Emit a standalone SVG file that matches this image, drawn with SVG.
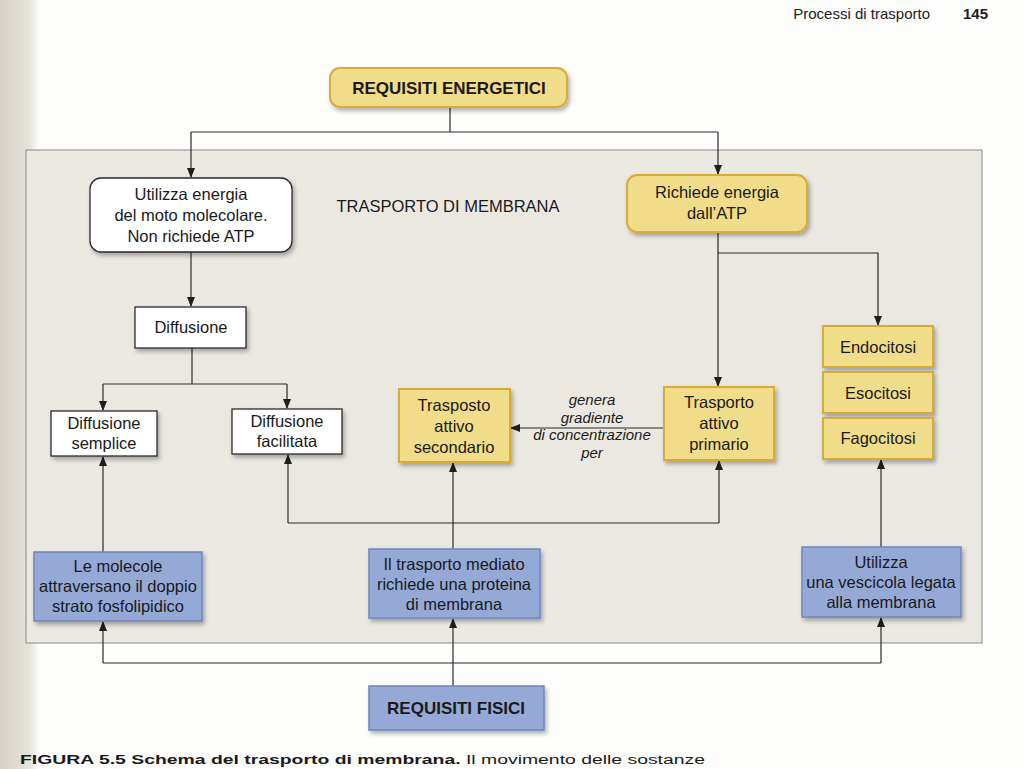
<svg xmlns="http://www.w3.org/2000/svg" width="1024" height="769" viewBox="0 0 1024 769">
<defs>
<style>
.t{font-family:"Liberation Sans",Arial,sans-serif;font-size:16.5px;fill:#1a1a1a;text-anchor:middle}
.b{font-weight:bold;font-size:17px}
.i{font-style:italic;font-size:15px}
.w{fill:#ffffff;stroke:#2a2a2a;stroke-width:1.3}
.y{fill:#f1dc89;stroke:#d6ad35;stroke-width:2}
.bl{fill:#95a9d7;stroke:#6f87bf;stroke-width:1.5}
.c{fill:none;stroke:#2b2b2b;stroke-width:1.2}
</style>
<marker id="ah" markerWidth="10" markerHeight="8" refX="9" refY="4" orient="auto" markerUnits="userSpaceOnUse">
<path d="M0,0 L10,4 L0,8 Z" fill="#1e1e1e"/>
</marker>
<filter id="sh" x="-10%" y="-10%" width="125%" height="135%">
<feDropShadow dx="2" dy="3" stdDeviation="2" flood-color="#000" flood-opacity="0.3"/>
</filter>
<linearGradient id="gut" x1="0" y1="0" x2="1" y2="0">
<stop offset="0" stop-color="#d6d2c8"/>
<stop offset="0.75" stop-color="#e6e3dc"/>
<stop offset="1" stop-color="#ffffff"/>
</linearGradient>
</defs>
<rect x="0" y="0" width="1024" height="769" fill="#fdfdfc"/>
<rect x="0" y="0" width="40" height="769" fill="url(#gut)"/>
<text x="930" y="19" style="font-family:'Liberation Sans',Arial,sans-serif;font-size:15px;fill:#222;text-anchor:end">Processi di trasporto</text>
<text x="988" y="19" style="font-family:'Liberation Sans',Arial,sans-serif;font-size:15px;font-weight:bold;fill:#222;text-anchor:end">145</text>
<rect id="panel" x="26" y="150" width="956" height="493" fill="#ebe8e2" stroke="#8a8a8a" stroke-width="1"/>
<text x="448" y="212" class="t" style="font-size:16.5px">TRASPORTO DI MEMBRANA</text>

<g id="connectors">
<path class="c" d="M450,107 V132 M191,132 H718"/>
<path class="c" d="M191,132 V177" marker-end="url(#ah)"/>
<path class="c" d="M718,132 V174" marker-end="url(#ah)"/>
<path class="c" d="M191,252 V306" marker-end="url(#ah)"/>
<path class="c" d="M192,348 V384 M103,384 H287"/>
<path class="c" d="M103,384 V410" marker-end="url(#ah)"/>
<path class="c" d="M287,384 V408" marker-end="url(#ah)"/>
<path class="c" d="M718,232 V386" marker-end="url(#ah)"/>
<path class="c" d="M718,253 H878 V325" marker-end="url(#ah)"/>
<path class="c" d="M664,428 H511" marker-end="url(#ah)"/>
<path class="c" d="M103,552 V457" marker-end="url(#ah)"/>
<path class="c" d="M453,549 V463" marker-end="url(#ah)"/>
<path class="c" d="M288,523 H719"/>
<path class="c" d="M288,523 V455" marker-end="url(#ah)"/>
<path class="c" d="M719,523 V461" marker-end="url(#ah)"/>
<path class="c" d="M881,547 V460" marker-end="url(#ah)"/>
<path class="c" d="M453,686 V619" marker-end="url(#ah)"/>
<path class="c" d="M103,663 H881"/>
<path class="c" d="M103,663 V622" marker-end="url(#ah)"/>
<path class="c" d="M881,663 V618" marker-end="url(#ah)"/>
</g>
<text x="592" y="405" class="t i">genera</text>
<text x="592" y="423" class="t i">gradiente</text>
<text x="592" y="440" class="t i">di concentrazione</text>
<text x="592" y="458" class="t i">per</text>

<g id="requisiti-energetici">
<rect x="330" y="68" width="237" height="39" rx="10" class="y" filter="url(#sh)"/>
<text x="449" y="94" class="t b">REQUISITI ENERGETICI</text>
</g>
<g id="utilizza-energia">
<rect x="90" y="178" width="202" height="74" rx="11" class="w" filter="url(#sh)"/>
<text x="191" y="200" class="t">Utilizza energia</text>
<text x="191" y="221" class="t">del moto molecolare.</text>
<text x="191" y="242" class="t">Non richiede ATP</text>
</g>
<g id="richiede-energia">
<rect x="627" y="175" width="180" height="57" rx="10" class="y" filter="url(#sh)"/>
<text x="717" y="198" class="t">Richiede energia</text>
<text x="717" y="219" class="t">dall’ATP</text>
</g>
<g id="diffusione">
<rect x="135" y="307" width="111" height="41" class="w" filter="url(#sh)"/>
<text x="191" y="333" class="t">Diffusione</text>
</g>
<g id="diffusione-semplice">
<rect x="51" y="411" width="106" height="45" class="w" filter="url(#sh)"/>
<text x="104" y="429" class="t">Diffusione</text>
<text x="104" y="449" class="t">semplice</text>
</g>
<g id="diffusione-facilitata">
<rect x="232" y="409" width="110" height="45" class="w" filter="url(#sh)"/>
<text x="287" y="427" class="t">Diffusione</text>
<text x="287" y="447" class="t">facilitata</text>
</g>
<g id="trasposto-secondario">
<rect x="399" y="389" width="111" height="73" class="y" filter="url(#sh)"/>
<text x="454" y="411" class="t">Trasposto</text>
<text x="454" y="432" class="t">attivo</text>
<text x="454" y="453" class="t">secondario</text>
</g>
<g id="trasporto-primario">
<rect x="664" y="387" width="110" height="73" class="y" filter="url(#sh)"/>
<text x="719" y="408" class="t">Trasporto</text>
<text x="719" y="429" class="t">attivo</text>
<text x="719" y="450" class="t">primario</text>
</g>
<g id="endocitosi">
<rect x="823" y="326" width="110" height="41" class="y" filter="url(#sh)"/>
<text x="878" y="353" class="t">Endocitosi</text>
</g>
<g id="esocitosi">
<rect x="823" y="372" width="110" height="41" class="y" filter="url(#sh)"/>
<text x="878" y="399" class="t">Esocitosi</text>
</g>
<g id="fagocitosi">
<rect x="823" y="418" width="110" height="41" class="y" filter="url(#sh)"/>
<text x="878" y="444" class="t">Fagocitosi</text>
</g>
<g id="le-molecole">
<rect x="34" y="552" width="168" height="69" class="bl" filter="url(#sh)"/>
<text x="118" y="572" class="t">Le molecole</text>
<text x="118" y="592" class="t">attraversano il doppio</text>
<text x="118" y="612" class="t">strato fosfolipidico</text>
</g>
<g id="trasporto-mediato">
<rect x="369" y="549" width="171" height="69" class="bl" filter="url(#sh)"/>
<text x="454" y="570" class="t">Il trasporto mediato</text>
<text x="454" y="590" class="t">richiede una proteina</text>
<text x="454" y="610" class="t">di membrana</text>
</g>
<g id="vescicola">
<rect x="802" y="547" width="159" height="70" class="bl" filter="url(#sh)"/>
<text x="881" y="568" class="t">Utilizza</text>
<text x="881" y="588" class="t">una vescicola legata</text>
<text x="881" y="608" class="t">alla membrana</text>
</g>
<g id="requisiti-fisici">
<rect x="369" y="686" width="175" height="44" class="bl" filter="url(#sh)"/>
<text x="456" y="714" class="t b">REQUISITI FISICI</text>
</g>
<text x="20" y="764" textLength="685" lengthAdjust="spacingAndGlyphs" style="font-family:'Liberation Sans',Arial,sans-serif;font-size:12px;fill:#1a1a1a"><tspan font-weight="bold">FIGURA 5.5  Schema del trasporto di membrana.</tspan> Il movimento delle sostanze</text>
</svg>
